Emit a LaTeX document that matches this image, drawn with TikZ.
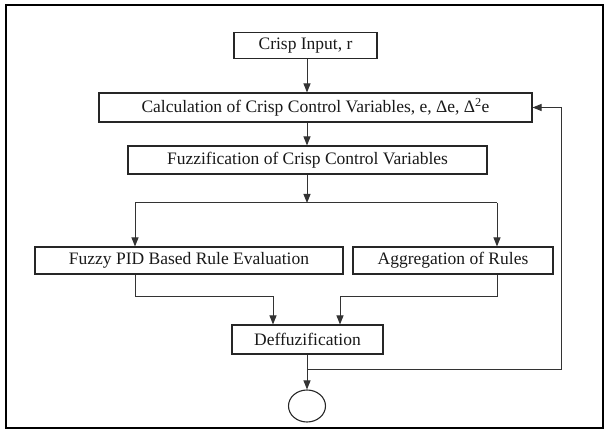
\documentclass[tikz,border=0pt]{standalone}
\usepackage{fontspec}
\setmainfont{Liberation Serif}
\usetikzlibrary{arrows.meta,shapes.geometric}
\begin{document}
\begin{tikzpicture}[x=1pt,y=-1pt,
  box/.style={draw=black!85,line width=1.1pt,rectangle,inner sep=0pt,
    font=\fontsize{17.5}{20}\selectfont,text=black!90},
  conn/.style={draw=black!80,line width=1pt},
  arr/.style={conn,-{Triangle[length=9pt,width=7pt]}}]
\useasboundingbox (0,0) rectangle (605,430);
\draw[line width=2pt] (6,5) rectangle (603,428);
\node[box,minimum width=143pt,minimum height=26pt] (crisp) at (305.5,45.5) {Crisp Input, r};
\node[box,minimum width=433pt,minimum height=29pt] (calc) at (315.5,107.5) {Calculation of Crisp Control Variables, e, Δe, Δ\textsuperscript{2}e};
\node[box,minimum width=359pt,minimum height=28pt] (fuzz) at (307.5,160) {Fuzzification of Crisp Control Variables};
\node[box,minimum width=308pt,minimum height=27pt] (pid) at (189,260.5) {Fuzzy PID Based Rule Evaluation};
\node[box,minimum width=200pt,minimum height=27pt] (agg) at (453,260.5) {Aggregation of Rules};
\node[box,minimum width=151pt,minimum height=29pt] (deff) at (307.5,339.5) {Deffuzification};
\node[draw=black!85,line width=1.1pt,ellipse,minimum width=37pt,minimum height=32pt,inner sep=0pt] (end) at (307,406) {};
\coordinate (ax) at (307,0);
\coordinate (split) at (307,203);
\coordinate (sl) at (135,203);
\coordinate (sr) at (497,203);
\coordinate (ml) at (273,297);
\coordinate (mr) at (340,297);
\coordinate (fb) at (561,369);
\draw[arr] (crisp.south -| ax) -- (calc.north -| ax);
\draw[arr] (calc.south -| ax) -- (fuzz.north -| ax);
\draw[arr] (fuzz.south -| ax) -- (split);
\draw[conn] (sl) -- (sr);
\draw[arr] (sl) -- (pid.north -| sl);
\draw[arr] (sr) -- (agg.north -| sr);
\draw[arr] (pid.south -| sl) |- (ml) -- (deff.north -| ml);
\draw[arr] (agg.south -| sr) |- (mr) -- (deff.north -| mr);
\draw[arr] (deff.south -| ax) -- (end.north);
\draw[arr] (ax |- fb) -- (fb) |- (calc.east);
\end{tikzpicture}
\end{document}
